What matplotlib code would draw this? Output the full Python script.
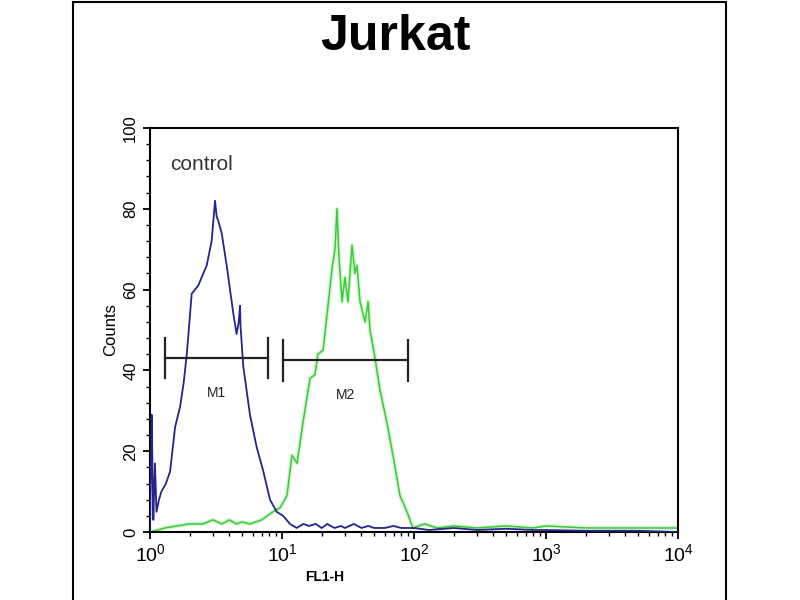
import math
import matplotlib
matplotlib.use("Agg")
import matplotlib.pyplot as plt
from matplotlib.patches import Rectangle
from matplotlib.ticker import LogLocator, MultipleLocator, FuncFormatter

plt.rcParams['font.family'] = ['Liberation Sans', 'DejaVu Sans']
plt.rcParams['mathtext.fontset'] = 'custom'
plt.rcParams['mathtext.rm'] = 'Liberation Sans'
plt.rcParams['mathtext.it'] = 'Liberation Sans'

title = "Jurkat"
xlabel = "FL1-H"
ylabel = "Counts"
sample_label = "control"

blue_x = [1.0, 1.02, 1.03, 1.05, 1.06, 1.09, 1.12, 1.17, 1.22, 1.32, 1.42, 1.55, 1.69, 1.80, 1.90,
          2.07, 2.32, 2.69, 2.93, 3.11, 3.20, 3.29, 3.49, 3.81, 4.28, 4.53, 4.70, 4.81, 4.85, 5.09,
          5.72, 6.43, 7.22, 8.11, 9.12, 10.2, 11.5, 12.9, 14.5, 16, 18, 20, 22, 25, 28, 30, 35, 40,
          45, 50, 60, 70, 80, 100, 130, 200, 300, 500, 800, 1000, 2000, 5000, 10000]
blue_y = [0, 20, 29, 10, 3, 17, 5, 8, 10, 12, 15, 26, 31, 37, 44,
          59, 61, 66, 72, 82, 78, 77, 74, 66, 54, 49, 52, 56, 51, 41,
          29, 21, 15, 8, 5, 4, 2, 1, 2, 1.5, 2, 1, 2, 1, 1.5, 1, 2, 1,
          1.5, 1, 1, 1.5, 1, 1, 0.5, 1, 0.5, 0.8, 0.5, 0.5, 0.3, 0.3, 0]

green_x = [1.0, 1.3, 1.6, 2.0, 2.5, 3.0, 3.5, 4.0, 4.5, 5.0, 5.72, 7.0, 8.55, 9.66, 10.9, 11.9,
           13.0, 14.4, 16.3, 17.8, 18.7, 20.5, 22.3, 23.9, 25.2, 26.1, 27.0, 28.5, 30.0, 31.6,
           33.9, 35.7, 37.0, 39.0, 42.6, 44.9, 46.4, 50.7, 55.3, 62.4, 69.3, 78.3, 88.5, 98.2,
           120, 150, 200, 300, 500, 800, 1000, 2000, 4000, 7000, 10000]
green_y = [0, 1, 1.5, 2, 2, 3, 2, 3, 2, 2.5, 2, 3, 5, 6, 9, 19,
           17, 27, 38, 39, 44, 45, 56, 65, 70, 80, 68, 57, 63, 57,
           71, 64, 66, 57, 52, 57, 50, 43, 35, 27, 19, 9, 5, 1,
           2, 1, 1.5, 1, 1.5, 1, 1.5, 1, 1, 1, 1]

marker_names = ["M1", "M2"]
marker_start = [1.30, 10.2]
marker_end = [7.83, 90.0]
marker_level = [43, 42.5]

y_ticks = [0, 20, 40, 60, 80, 100]

fig = plt.figure(figsize=(8, 6), dpi=100)
fig.patches.append(Rectangle((0.091, -0.01), 0.817, 1.007, transform=fig.transFigure,
                             fill=False, edgecolor='black', linewidth=1.5))

ax = fig.add_axes([0.1875, 0.1133, 0.66, 0.6734])
ax.set_xscale('log')
ax.set_xlim(1, 10000)
ax.set_ylim(0, 100)

ax.plot(green_x, green_y, color='#b8f0b0', lw=3.0, alpha=0.6, zorder=1)
ax.plot(green_x, green_y, color='#3cc83c', lw=1.1, zorder=2)
ax.plot(blue_x, blue_y, color='#24248c', lw=1.3, zorder=3)

for name, s, e, lv in zip(marker_names, marker_start, marker_end, marker_level):
    ax.plot([s, e], [lv, lv], color='#222222', lw=1.6, zorder=4)
    ax.plot([s, s], [lv - 5, lv + 5], color='#222222', lw=1.6, zorder=4)
    ax.plot([e, e], [lv - 5, lv + 5], color='#222222', lw=1.6, zorder=4)
    mid = (s * e) ** 0.5
    ax.text(mid, lv - 8.5, name, ha='center', va='center', fontsize=10, color='#222222')

ax.text(1.42, 91, sample_label, fontsize=15, color='#333333', ha='left', va='center')

ax.set_yticks(y_ticks)
ax.yaxis.set_minor_locator(MultipleLocator(4))
ax.xaxis.set_major_locator(LogLocator(base=10, numticks=10))
ax.xaxis.set_minor_locator(LogLocator(base=10, subs=range(2, 10), numticks=20))
ax.xaxis.set_major_formatter(FuncFormatter(lambda v, p: r'$10^{%d}$' % round(math.log10(v))))

ax.tick_params(axis='both', which='major', direction='out', length=5, width=1.3)
ax.tick_params(axis='x', which='major', labelsize=14, pad=3)
ax.tick_params(axis='y', which='major', labelsize=12)
ax.tick_params(axis='both', which='minor', direction='out', length=3, width=1.0)
for lab in ax.get_yticklabels():
    lab.set_rotation(90)
    lab.set_va('center')

for sp in ax.spines.values():
    sp.set_linewidth(1.5)

ax.set_ylabel(ylabel, fontsize=12, labelpad=4)
ax.set_xlabel(xlabel, fontsize=10, fontweight='bold', labelpad=2)
ax.xaxis.set_label_coords(0.33, -0.095)

fig.text(0.494, 0.938, title, fontsize=36, fontweight='bold', ha='center', va='center')

fig.savefig('out.png', dpi=100)
